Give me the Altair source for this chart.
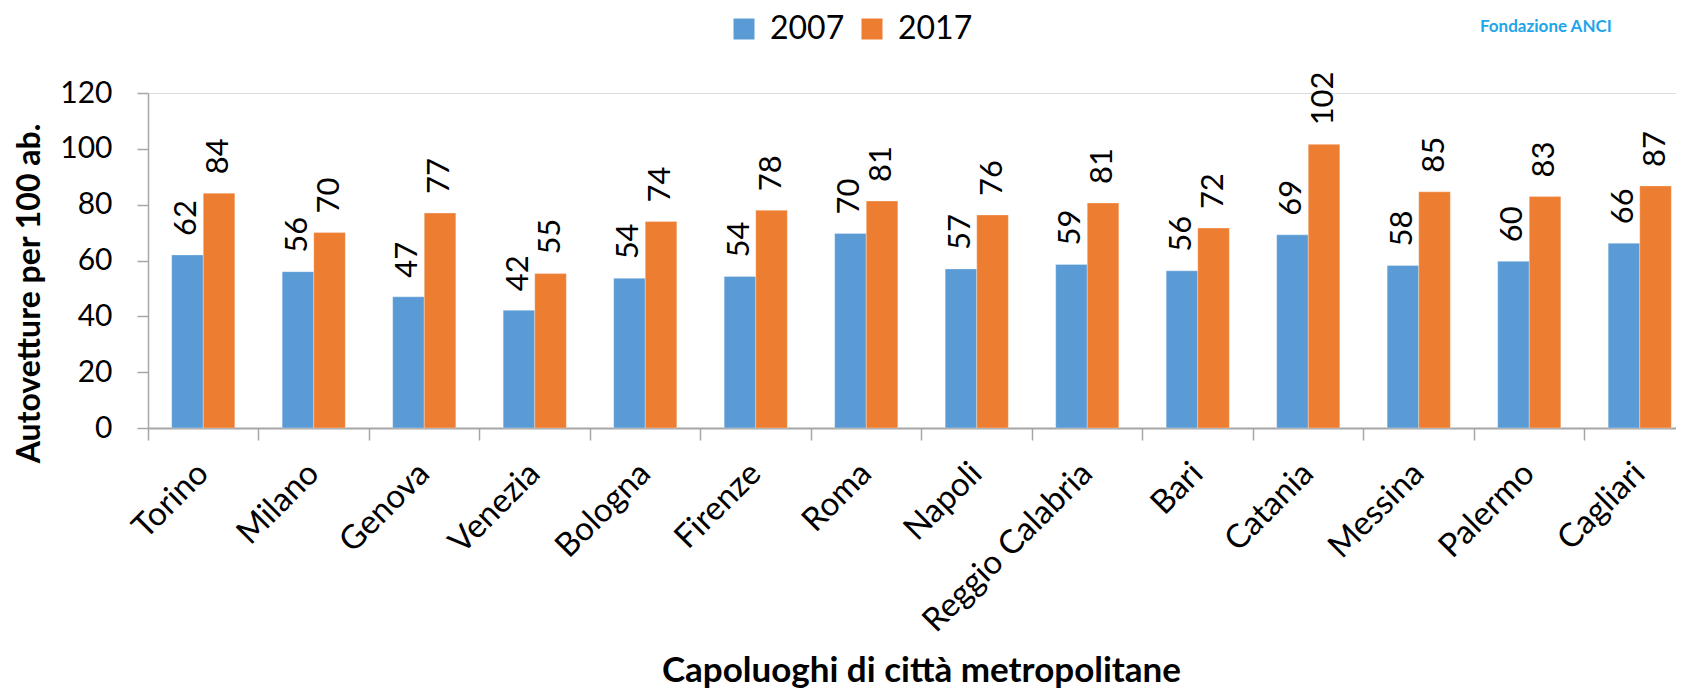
import altair as alt
import pandas as pd

cities = ["Torino", "Milano", "Genova", "Venezia", "Bologna", "Firenze", "Roma",
          "Napoli", "Reggio Calabria", "Bari", "Catania", "Messina", "Palermo", "Cagliari"]
v2007 = [62.0, 56.0, 47.0, 42.2, 53.6, 54.3, 69.7, 57.0, 58.6, 56.3, 69.2, 58.2, 59.7, 66.2]
v2017 = [84.1, 70.0, 77.0, 55.3, 74.0, 78.0, 81.3, 76.3, 80.6, 71.6, 101.6, 84.6, 82.9, 86.7]
years = ["2007", "2017"]
colors = ["#5B9BD5", "#ED7D31"]

rows = []
for c, a, b in zip(cities, v2007, v2017):
    rows.append({"city": c, "year": years[0], "value": a})
    rows.append({"city": c, "year": years[1], "value": b})
df = pd.DataFrame(rows)

FONT = "Lato"
PLOT_W = 1528
PLOT_H = 335
X_SPAN = 1547

x_enc = alt.X("city:N", sort=cities,
              scale=alt.Scale(paddingInner=0, paddingOuter=0, range=[0, X_SPAN]),
              axis=alt.Axis(title="Capoluoghi di città metropolitane",
                            titleFont=FONT, titleFontSize=35, titleFontWeight="bold",
                            titleColor="black", titleX=773, titleY=253, titleAlign="center",
                            titleBaseline="alphabetic",
                            labelAngle=315, labelAlign="right", labelBaseline="middle",
                            labelFont=FONT, labelFontSize=33, labelColor="black",
                            labelPadding=28, tickSize=12, bandPosition=0, labelLimit=0,
                            domainColor="#a6a6a6", tickColor="#a6a6a6",
                            domainWidth=2, tickWidth=1.5, labelOverlap=False))
xoff = alt.XOffset("year:N", sort=years,
                   scale=alt.Scale(paddingInner=0, paddingOuter=0.75))
y_enc = alt.Y("value:Q", scale=alt.Scale(domain=[0, 120], nice=False),
              axis=alt.Axis(title="Autovetture per 100 ab.", values=[0, 20, 40, 60, 80, 100, 120],
                            titleFont=FONT, titleFontSize=32, titleFontWeight="bold",
                            titleColor="black", titleX=-119, titleY=200, titleAngle=270,
                            titleAlign="center", titleBaseline="middle",
                            labelFont=FONT, labelFontSize=30, labelColor="black",
                            labelPadding=25, tickSize=11, grid=False,
                            domainColor="#a6a6a6", tickColor="#a6a6a6",
                            domainWidth=1.5, tickWidth=1.5))

bars = alt.Chart(df).mark_bar(stroke="white", strokeWidth=0.5, strokeOpacity=0.6).encode(
    x=x_enc, xOffset=xoff, y=y_enc,
    color=alt.Color("year:N", sort=years,
                    scale=alt.Scale(domain=years, range=colors),
                    legend=alt.Legend(title=None, orient="none", legendX=580, legendY=-80,
                                      direction="horizontal", symbolType="square",
                                      symbolSize=441, symbolStrokeWidth=0,
                                      labelFont=FONT, labelFontSize=32, labelColor="black",
                                      labelOffset=10, columnPadding=11))
)

labels = alt.Chart(df).mark_text(angle=270, align="left", baseline="middle", dx=19,
                                 font=FONT, fontSize=31, color="black").encode(
    x=alt.X("city:N", sort=cities), xOffset=alt.XOffset("year:N", sort=years), y="value:Q",
    text=alt.Text("value:Q", format=".0f")
)

logo_text = alt.Chart(pd.DataFrame({"t": ["Fondazione ANCI"]})).mark_text(
    align="left", baseline="middle", font=FONT, fontSize=17, fontWeight="bold", color="#1EA5EA"
).encode(x=alt.value(1332), y=alt.value(-66), text="t:N")

chart = alt.layer(bars, labels, logo_text).properties(
    width=PLOT_W, height=PLOT_H,
    autosize=alt.AutoSizeParams(type="none"),
    padding={"left": 140, "top": 85, "right": 0, "bottom": 262},
).configure_view(stroke=None).configure(background="white")

chart.save("out.html", embed_options={"renderer": "svg", "actions": False})
